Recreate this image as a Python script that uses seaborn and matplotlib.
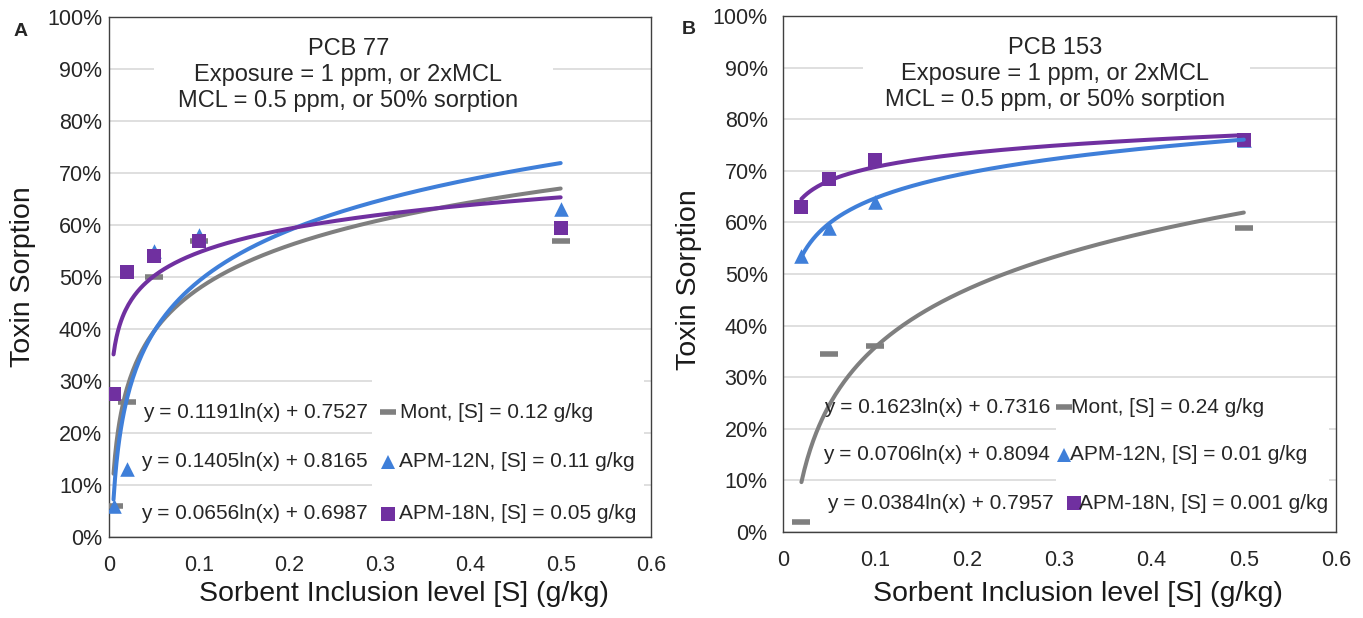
import numpy as np
import matplotlib
matplotlib.use("Agg")
import matplotlib.pyplot as plt
from matplotlib.patches import Rectangle
import seaborn as sns

# ─── Data ──────────────────────────────────────────────────
x_a = [0.005, 0.02, 0.05, 0.1, 0.5]
mont_a = [0.06, 0.26, 0.50, 0.57, 0.57]
apm12_a = [0.06, 0.13, 0.55, 0.58, 0.63]
apm18_a = [0.275, 0.51, 0.54, 0.57, 0.595]

x_b = [0.02, 0.05, 0.1, 0.5]
mont_b = [0.02, 0.345, 0.36, 0.59]
apm12_b = [0.535, 0.59, 0.64, 0.76]
apm18_b = [0.63, 0.685, 0.72, 0.76]

# log trendlines shown on the chart: y = a*ln(x) + b
coef_a = {"Mont": (0.1191, 0.7527), "APM-12N": (0.1405, 0.8165), "APM-18N": (0.0656, 0.6987)}
coef_b = {"Mont": (0.1623, 0.7316), "APM-12N": (0.0706, 0.8094), "APM-18N": (0.0384, 0.7957)}

sorb_a = {"Mont": "0.12", "APM-12N": "0.11", "APM-18N": "0.05"}
sorb_b = {"Mont": "0.24", "APM-12N": "0.01", "APM-18N": "0.001"}

titles = ["PCB 77", "PCB 153"]
subtitle = "Exposure = 1 ppm, or 2xMCL\nMCL = 0.5 ppm, or 50% sorption"

# ─── Style ─────────────────────────────────────────────────
sns.set_theme(style="white")
plt.rcParams["font.family"] = ["Liberation Sans", "DejaVu Sans"]

colors = {"Mont": "#7f7f7f", "APM-12N": "#3f7fd9", "APM-18N": "#7030a0"}
markers = {"Mont": "_", "APM-12N": "^", "APM-18N": "s"}
sizes = {"Mont": 170, "APM-12N": 110, "APM-18N": 95}

fig = plt.figure(figsize=(13.63, 6.18), dpi=100)
ax_a = fig.add_axes([109 / 1363, 81 / 618, 542 / 1363, 520 / 618])
ax_b = fig.add_axes([783 / 1363, 86 / 618, 553 / 1363, 516 / 618])

panels = [
    dict(ax=ax_a, x=x_a, ys={"Mont": mont_a, "APM-12N": apm12_a, "APM-18N": apm18_a},
         coef=coef_a, sorb=sorb_a, letter="A", title=titles[0],
         title_x=0.265, box_x=(0.050, 0.4915),
         rows=[0.240, 0.145, 0.045], eq_x=[0.2867, 0.2867, 0.2867],
         mk_x=[0.309, 0.309, 0.309], lab_x=[0.322, 0.321, 0.321],
         leg_box=(0.485, 0.31), ypad=5, ylab=(-0.1347, 0.50), xlab=(0.544, -0.0846),
         letter_xy=(21, 32)),
    dict(ax=ax_b, x=x_b, ys={"Mont": mont_b, "APM-12N": apm12_b, "APM-18N": apm18_b},
         coef=coef_b, sorb=sorb_b, letter="B", title=titles[1],
         title_x=0.295, box_x=(0.0868, 0.5067),
         rows=[0.242, 0.150, 0.056], eq_x=[0.2897, 0.2897, 0.294],
         mk_x=[0.305, 0.305, 0.316], lab_x=[0.3125, 0.3114, 0.321],
         leg_box=(0.494, 0.285), ypad=11, ylab=(-0.1465, 0.49), xlab=(0.533, -0.095),
         letter_xy=(689, 30)),
]

for p in panels:
    ax = p["ax"]
    xs = np.array(p["x"])
    xfit = np.linspace(xs.min(), xs.max(), 300)

    for name, ys in p["ys"].items():
        sns.scatterplot(x=xs, y=ys, ax=ax, marker=markers[name], s=sizes[name],
                        color=colors[name], edgecolor=colors[name],
                        linewidth=4 if name == "Mont" else 0, zorder=3, legend=False)
    for name, (a, b) in p["coef"].items():
        sns.lineplot(x=xfit, y=a * np.log(xfit) + b, ax=ax, color=colors[name],
                     lw=2.9, zorder=4, legend=False)

    ax.set_xlim(0, 0.6)
    ax.set_ylim(0, 1)
    ax.set_xticks(np.arange(0, 0.61, 0.1))
    ax.set_xticklabels(["0", "0.1", "0.2", "0.3", "0.4", "0.5", "0.6"])
    ax.set_yticks(np.arange(0, 1.01, 0.1))
    ax.set_yticklabels([f"{v}%" for v in range(0, 101, 10)])
    ax.tick_params(axis="x", length=0, pad=13, labelsize=15.5, colors="#262626")
    ax.tick_params(axis="y", length=0, pad=p["ypad"], labelsize=15.5, colors="#262626")
    ax.yaxis.grid(True, color="#d9d9d9", lw=1.2)
    ax.set_axisbelow(True)
    for sp in ax.spines.values():
        sp.set_color("#404040")
        sp.set_linewidth(1.0)

    ax.set_ylabel("Toxin Sorption", fontsize=20.5, color="#1a1a1a")
    ax.yaxis.set_label_coords(*p["ylab"])
    ax.set_xlabel("Sorbent Inclusion level [S] (g/kg)", fontsize=20.5, color="#1a1a1a")
    ax.xaxis.set_label_coords(*p["xlab"])

    # title block with white background
    x0, x1 = p["box_x"]
    ax.add_patch(Rectangle((x0, 0.82), x1 - x0, 0.15, facecolor="white",
                           edgecolor="none", zorder=1))
    ax.text(p["title_x"], 0.888, p["title"] + "\n" + subtitle, ha="center", va="center",
            fontsize=17, linespacing=1.25, color="#262626", zorder=2)

    # legend block
    lx, ly = p["leg_box"]
    ax.add_patch(Rectangle((lx, 0.004), 0.988 - lx, ly - 0.004, transform=ax.transAxes,
                           facecolor="white", edgecolor="none", zorder=1))
    for i, (name, (a, b)) in enumerate(p["coef"].items()):
        yrow = p["rows"][i]
        ax.text(p["eq_x"][i], yrow, f"y = {a:.4f}ln(x) + {b:.4f}", ha="right",
                va="center", fontsize=15, color="#262626", zorder=5)
        ax.plot([p["mk_x"][i]], [yrow], marker=markers[name], color=colors[name],
                ms=11 if name == "Mont" else 10, mew=4 if name == "Mont" else 0,
                ls="none", zorder=5)
        ax.text(p["lab_x"][i], yrow, f"{name}, [S] = {p['sorb'][name]} g/kg",
                ha="left", va="center", fontsize=15, color="#262626", zorder=5)

    fig.text(p["letter_xy"][0] / 1363, 1 - p["letter_xy"][1] / 618, p["letter"],
             ha="center", va="center", fontsize=14, fontweight="bold")

fig.savefig("out.png", dpi=100)
